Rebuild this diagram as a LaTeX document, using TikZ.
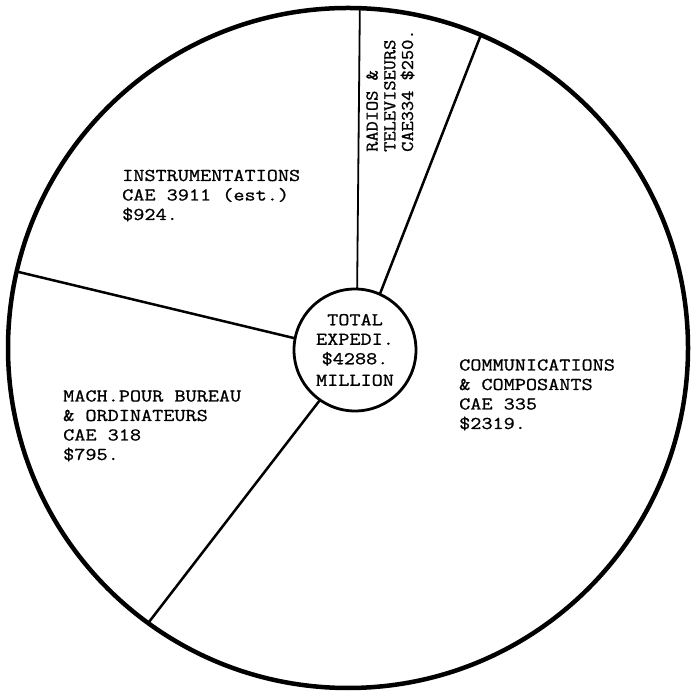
\documentclass[tikz,border=0pt]{standalone}
\usepackage{fontspec}
\setmonofont{Latin Modern Mono}[FakeStretch=1.2,FakeBold=1]
\newfontfamily\radiofont{Latin Modern Mono}[FakeStretch=1.1,FakeBold=1]
\begin{document}
\begin{tikzpicture}[x=1pt,y=1pt]

\tikzset{
  sector/.style={line width=2.5pt,black},
  typed/.style={font=\ttfamily\fontsize{18}{19.5}\selectfont},
  figtext/.style={typed,align=left,inner sep=0pt,anchor=base west},
}

\useasboundingbox (0,0) rectangle (690,692);

%Draw border of the whole pie
\node[draw,circle,line width=4.5pt,minimum size=680pt,inner sep=0pt,outer sep=0pt] (pie) at (348,344) {};

%Total in the middle
\node[draw,circle,line width=2.8pt,minimum size=122pt,inner sep=0pt,outer sep=0pt,typed,align=center] (tot) at (355,342) {TOTAL\\EXPEDI.\\\$4288.\\[2pt]MILLION};

%Dividing lines
\draw[sector,line width=1.8pt] (tot.88) -- (pie.88.5);
\draw[sector] (tot.66) -- (pie.67.3);
\draw[sector] (tot.169) -- (pie.167.8);
\draw[sector] (tot.235) -- (pie.234.7);

%Instrumentations (base = last line)
\node[figtext] (instr) at (122,472) {INSTRUMENTATIONS\\CAE 3911 (est.)\\\$924.};

%Radios
\node[figtext,rotate=90,font=\radiofont\fontsize{18}{17.7}\selectfont] (radio) at (413,540) {RADIOS \&\\TELEVISEURS\\CAE334 \$250.};

%Communications
\node[figtext] (comm) at (459,263) {COMMUNICATIONS\\\& COMPOSANTS\\CAE 335\\\$2319.};

%Office machines
\node[figtext] (mach) at (63,232) {MACH.POUR BUREAU\\\& ORDINATEURS\\CAE 318\\\$795.};

\end{tikzpicture}
\end{document}
